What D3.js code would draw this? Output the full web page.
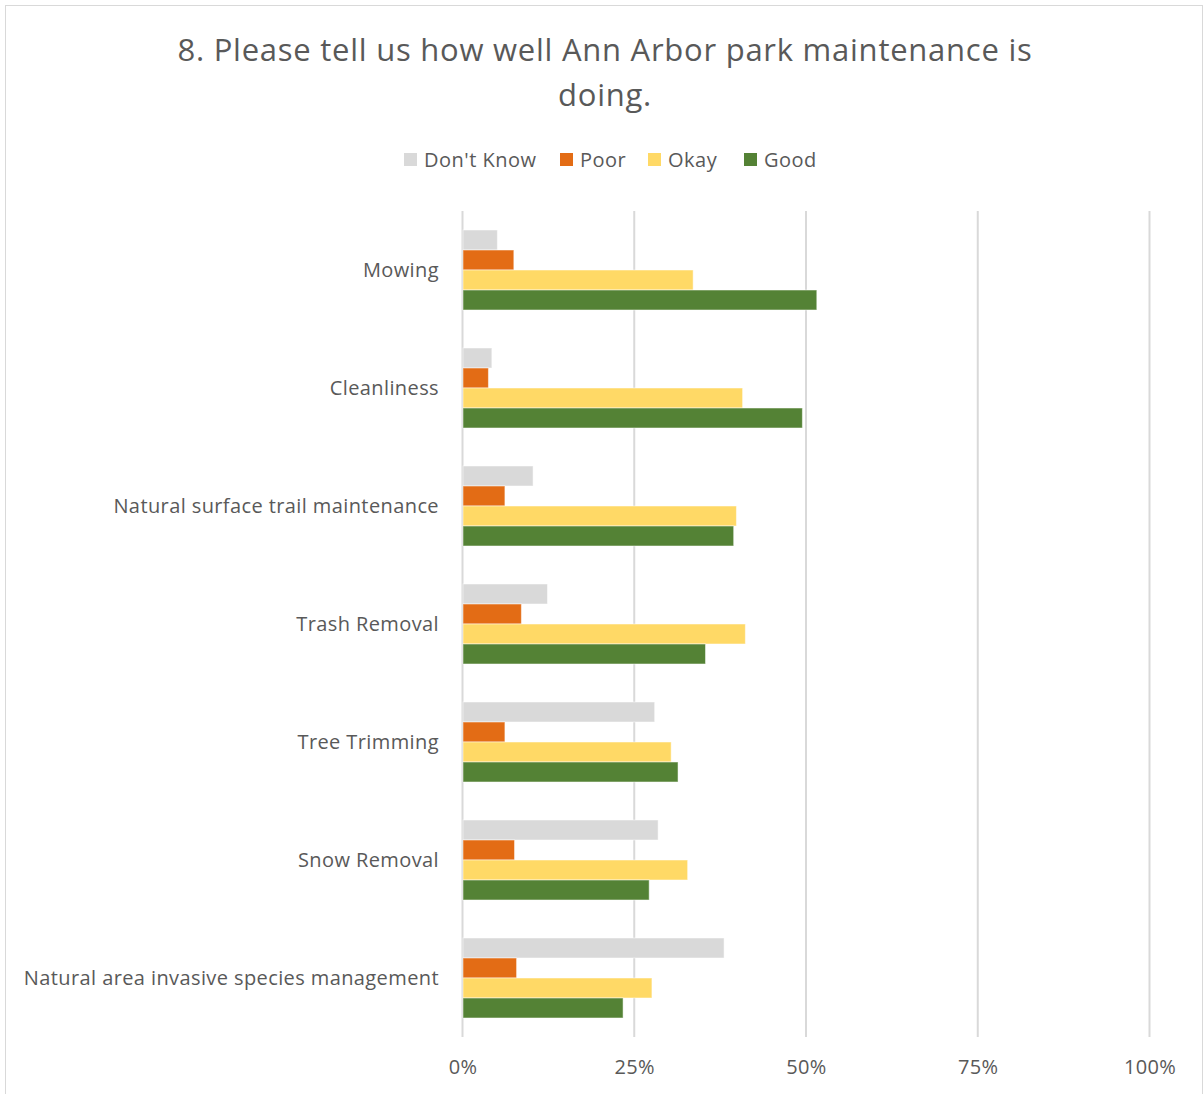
<!DOCTYPE html>
<html>
<head>
<meta charset="utf-8">
<script src="https://cdn.jsdelivr.net/npm/d3@7"></script>
<style>
  body { margin: 0; background: #fff; }
  text { font-family: "Open Sans", "Noto Sans", sans-serif; fill: #595959; }
</style>
</head>
<body>
<script>
// chart values (percent)
var categories = ['Mowing', 'Cleanliness', 'Natural surface trail maintenance', 'Trash Removal',
  'Tree Trimming', 'Snow Removal', 'Natural area invasive species management'];
var seriesNames = ["Don't Know", 'Poor', 'Okay', 'Good'];
var dontKnow = [5.0, 4.2, 10.2, 12.3, 27.9, 28.4, 38.0];
var poor     = [7.4, 3.7, 6.1, 8.5, 6.1, 7.5, 7.8];
var okay     = [33.5, 40.7, 39.8, 41.1, 30.3, 32.7, 27.5];
var good     = [51.5, 49.4, 39.4, 35.3, 31.3, 27.1, 23.3];
var ticks    = [0, 25, 50, 75, 100];

var colors = ['#d9d9d9', '#e36c15', '#ffd966', '#548235'];
var series = [dontKnow, poor, okay, good];

var width = 1204, height = 1094;
var margin = {left: 462.5, right: 54.5, top: 211, bottom: 57};

var svg = d3.select('body').append('svg')
  .attr('width', width)
  .attr('height', height);

// chart border
svg.append('rect')
  .attr('x', 5.5).attr('y', 5.5)
  .attr('width', 1197).attr('height', 1094)
  .attr('fill', '#fff')
  .attr('stroke', '#d9d9d9');

// title
var title = svg.append('text')
  .attr('text-anchor', 'middle')
  .style('font-size', '31px')
  .style('letter-spacing', '0.75px');
title.append('tspan').attr('x', 605).attr('y', 61)
  .text('8. Please tell us how well Ann Arbor park maintenance is');
title.append('tspan').attr('x', 605).attr('y', 106).text('doing.');

// legend
var legendX = [404, 560, 648, 744];
var legend = svg.selectAll('.legend')
  .data(seriesNames)
  .enter().append('g')
  .attr('class', 'legend')
  .attr('transform', function(d, i) { return 'translate(' + legendX[i] + ',153)'; });
legend.append('rect')
  .attr('width', 13).attr('height', 13)
  .attr('fill', function(d, i) { return colors[i]; });
legend.append('text')
  .attr('x', 20).attr('y', 13.5)
  .style('font-size', '20px')
  .style('letter-spacing', '0.5px')
  .text(function(d) { return d; });

var x = d3.scaleLinear()
  .domain([0, 100])
  .range([margin.left, width - margin.right]);

var y = d3.scaleBand()
  .domain(categories)
  .range([margin.top, height - margin.bottom])
  .paddingInner(0.322)
  .paddingOuter(0.161);

var ySub = d3.scaleBand()
  .domain(seriesNames)
  .range([0, y.bandwidth()]);

// gridlines
svg.append('g')
  .selectAll('line')
  .data(ticks)
  .enter().append('line')
  .attr('x1', function(d) { return x(d); })
  .attr('x2', function(d) { return x(d); })
  .attr('y1', margin.top)
  .attr('y2', height - margin.bottom)
  .attr('stroke', '#d9d9d9')
  .attr('stroke-width', 2);

// bars
var groups = svg.append('g')
  .selectAll('g')
  .data(categories)
  .enter().append('g')
  .attr('transform', function(d) { return 'translate(0,' + y(d) + ')'; });

groups.selectAll('rect')
  .data(function(d, ci) {
    return seriesNames.map(function(s, si) { return {s: s, si: si, v: series[si][ci]}; });
  })
  .enter().append('rect')
  .attr('x', x(0) + 0.5)
  .attr('y', function(d) { return ySub(d.s); })
  .attr('width', function(d) { return x(d.v) - x(0); })
  .attr('height', ySub.bandwidth())
  .attr('fill', function(d) { return colors[d.si]; })
  .attr('stroke', '#fff')
  .attr('stroke-opacity', 0.5)
  .attr('stroke-width', 1);

// category labels
svg.append('g')
  .selectAll('text')
  .data(categories)
  .enter().append('text')
  .attr('x', 439)
  .attr('y', function(d) { return y(d) + y.bandwidth() / 2 + 7; })
  .attr('text-anchor', 'end')
  .style('font-size', '20px')
  .style('letter-spacing', '0.4px')
  .text(function(d) { return d; });

// x axis
var xAxis = svg.append('g')
  .attr('transform', 'translate(0,' + (height - margin.bottom) + ')')
  .call(d3.axisBottom(x).tickValues(ticks).tickSize(0).tickPadding(23)
    .tickFormat(function(d) { return d + '%'; }));
xAxis.select('.domain').remove();
xAxis.selectAll('text')
  .style('font-size', '20px')
  .style('letter-spacing', '0.3px')
  .style('font-family', '"Open Sans", "Noto Sans", sans-serif')
  .attr('fill', '#595959');
</script>
</body>
</html>
